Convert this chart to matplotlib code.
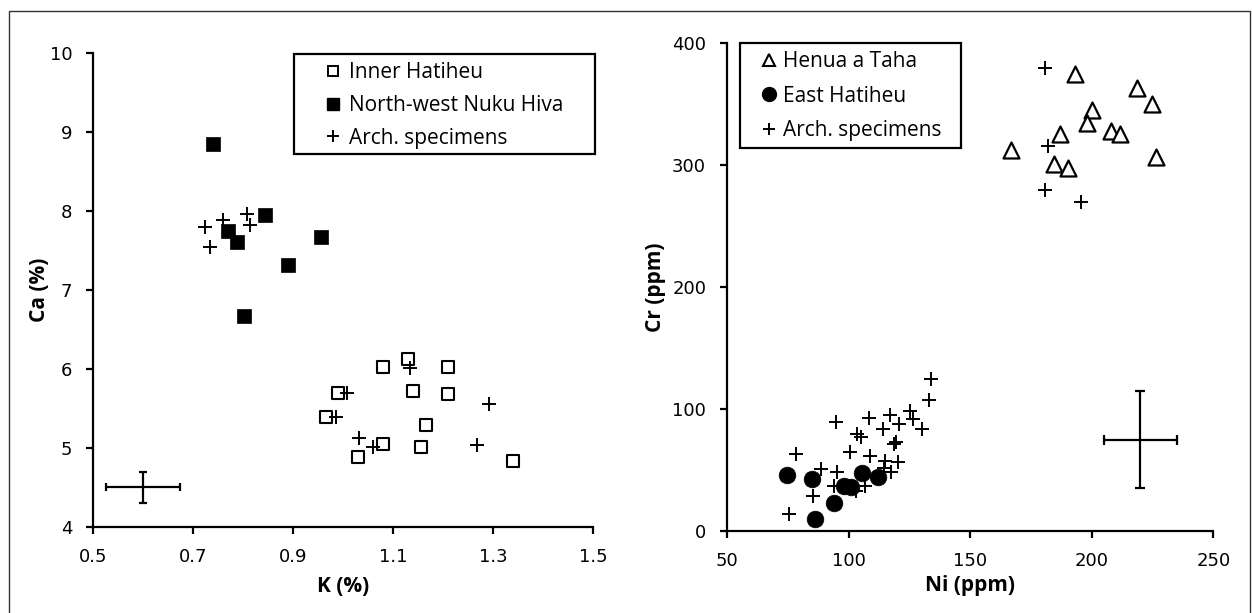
import matplotlib
matplotlib.use("Agg")
import matplotlib.pyplot as plt
from matplotlib.lines import Line2D
from matplotlib.patches import Rectangle

# ---------------- data ----------------
# Left panel: K (%) vs Ca (%)
inner_k = [1.08, 1.13, 1.21, 0.99, 1.14, 1.21, 0.965, 1.165, 1.08, 1.155, 1.03, 1.34]
inner_ca = [6.02, 6.13, 6.02, 5.69, 5.72, 5.68, 5.39, 5.29, 5.05, 5.01, 4.89, 4.83]

nw_k = [0.74, 0.844, 0.77, 0.787, 0.955, 0.889, 0.802]
nw_ca = [8.845, 7.95, 7.75, 7.61, 7.67, 7.32, 6.67]

arch_k = [0.723, 0.759, 0.807, 0.813, 0.733, 1.133, 1.009, 0.986, 1.291, 1.031, 1.059, 1.267]
arch_ca = [7.80, 7.88, 7.96, 7.82, 7.54, 6.01, 5.70, 5.39, 5.55, 5.12, 5.01, 5.04]

err_left_k, err_left_ca = 0.6, 4.5
err_left_dk, err_left_dca = 0.075, 0.2

# Right panel: Ni (ppm) vs Cr (ppm)
henua_ni = [193, 218.6, 224.9, 200.2, 197.9, 208.1, 211.6, 187, 166.7, 226.5, 184.6, 190.3]
henua_cr = [374.5, 363, 350, 345, 334.3, 328.3, 325.5, 325.3, 312.4, 307, 301.4, 298]

east_ni = [74.6, 84.9, 105.4, 112, 98.1, 100.9, 94, 86.1]
east_cr = [46, 42.7, 47.4, 44.6, 37.2, 36.4, 23, 9.9]

arch2_ni = [133.7, 133.1, 95, 108.4, 117.1, 125.3, 126.3, 120.8, 114.3, 130.4, 103.6, 105,
            119.4, 118.7, 78.3, 100.5, 108.7, 114.9, 120.4, 88.6, 95.1, 114.6, 117.6,
            94, 103, 106.8, 85.5, 75.5, 180.9, 182.1, 180.9, 195.4]
arch2_cr = [124.3, 107.3, 89.3, 92.6, 95.3, 98.8, 92, 87.9, 83.8, 83.8, 79.7, 77,
            73.4, 71.5, 63.2, 65.1, 61.9, 57.7, 56.4, 50.9, 48.2, 51.5, 48.2,
            37.2, 33.1, 37.2, 29, 14, 379.5, 316, 280, 269.9]

err_right_ni, err_right_cr = 220, 75
err_right_dni, err_right_dcr = 15, 40

left_xticks = [0.5, 0.7, 0.9, 1.1, 1.3, 1.5]
left_yticks = [4, 5, 6, 7, 8, 9, 10]
right_xticks = [50, 100, 150, 200, 250]
right_yticks = [0, 100, 200, 300, 400]

# ---------------- figure ----------------
W, H = 1252, 613
fig = plt.figure(figsize=(W / 100, H / 100), dpi=100)

def fx(px):
    return px / W

def fy(py):
    return 1 - py / H

tick_font = {"family": "DejaVu Sans", "size": 13}
label_font = dict(family="Open Sans", size=15, weight="bold")
legend_font = dict(family="Open Sans", size=15)

# outer frame
fig.patches.append(Rectangle((fx(9), fy(640)), fx(1250) - fx(9), fy(11) - fy(640),
                             transform=fig.transFigure, fill=False,
                             edgecolor="#333333", linewidth=1.0))

axL = fig.add_axes([fx(93), fy(527), fx(593) - fx(93), fy(52.7) - fy(527)])
axR = fig.add_axes([fx(727), fy(531), fx(1213.3) - fx(727), fy(43.3) - fy(531)])

for ax in (axL, axR):
    for s in ("top", "right"):
        ax.spines[s].set_visible(False)
    for s in ("left", "bottom"):
        ax.spines[s].set_linewidth(1.6)
    ax.tick_params(direction="out", length=5, width=1.6, pad=10, colors="black")

# Left panel
axL.scatter(inner_k, inner_ca, marker="s", s=8.5**2, facecolor="white",
            edgecolor="black", linewidths=1.5, zorder=3)
axL.scatter(nw_k, nw_ca, marker="s", s=9.5**2, facecolor="black",
            edgecolor="black", linewidths=0.5, zorder=3)
axL.scatter(arch_k, arch_ca, marker="+", s=10.5**2, color="black",
            linewidths=1.4, zorder=4)
axL.errorbar([err_left_k], [err_left_ca], xerr=[err_left_dk], yerr=[err_left_dca],
             fmt="none", ecolor="black", elinewidth=1.6, capsize=3, capthick=1.6)
axL.set_xlim(0.5, 1.5)
axL.set_ylim(4, 10)
axL.set_xticks(left_xticks)
axL.set_xticklabels([f"{v:g}" for v in left_xticks], fontdict=tick_font)
axL.set_yticks(left_yticks)
axL.set_yticklabels([str(v) for v in left_yticks], fontdict=tick_font)
axL.set_xlabel("K (%)", **label_font)
axL.set_ylabel("Ca (%)", **label_font)
axL.xaxis.set_label_coords(0.5, (527 - 586) / 474.3)
axL.xaxis.label.set_va("center")
axL.yaxis.set_label_coords((40 - 93) / 500.0, 0.5)
axL.yaxis.label.set_va("center")

# Right panel
axR.scatter(henua_ni, henua_cr, marker="^", s=11.5**2, facecolor="white",
            edgecolor="black", linewidths=1.6, zorder=3)
axR.scatter(east_ni, east_cr, marker="o", s=12**2, facecolor="black",
            edgecolor="black", linewidths=0.5, zorder=3)
axR.scatter(arch2_ni, arch2_cr, marker="+", s=10.5**2, color="black",
            linewidths=1.4, zorder=4)
axR.errorbar([err_right_ni], [err_right_cr], xerr=[err_right_dni], yerr=[err_right_dcr],
             fmt="none", ecolor="black", elinewidth=1.6, capsize=3.5, capthick=1.6)
axR.set_xlim(50, 250)
axR.set_ylim(0, 400)
axR.set_xticks(right_xticks)
axR.set_xticklabels([str(v) for v in right_xticks], fontdict=tick_font)
axR.set_yticks(right_yticks)
axR.set_yticklabels([str(v) for v in right_yticks], fontdict=tick_font)
axR.set_xlabel("Ni (ppm)", **label_font)
axR.set_ylabel("Cr (ppm)", **label_font)
axR.xaxis.set_label_coords(0.5, (531 - 586) / 487.7)
axR.xaxis.label.set_va("center")
axR.yaxis.set_label_coords((655 - 727) / 486.3, 0.5)
axR.yaxis.label.set_va("center")

# Legends (frame drawn separately to match the wide padding)
hL = [
    Line2D([], [], marker="s", linestyle="none", markersize=7.5, markerfacecolor="white",
           markeredgecolor="black", markeredgewidth=1.4, label="Inner Hatiheu"),
    Line2D([], [], marker="s", linestyle="none", markersize=8, markerfacecolor="black",
           markeredgecolor="black", label="North-west Nuku Hiva"),
    Line2D([], [], marker="+", linestyle="none", markersize=9, color="black",
           markeredgewidth=1.4, label="Arch. specimens"),
]
legL = fig.legend(handles=hL, loc="upper left", bbox_to_anchor=(fx(324.7), fy(62)),
                  bbox_transform=fig.transFigure, frameon=False, prop=legend_font,
                  borderpad=0, borderaxespad=0, handlelength=0.8, handletextpad=0.37,
                  labelspacing=0.57)
fig.patches.append(Rectangle((fx(294.3), fy(154)), fx(595) - fx(294.3), fy(54.3) - fy(154),
                             transform=fig.transFigure, fill=False,
                             edgecolor="black", linewidth=1.6))

hR = [
    Line2D([], [], marker="^", linestyle="none", markersize=8.5, markerfacecolor="white",
           markeredgecolor="black", markeredgewidth=1.5, label="Henua a Taha"),
    Line2D([], [], marker="o", linestyle="none", markersize=10, markerfacecolor="black",
           markeredgecolor="black", label="East Hatiheu"),
    Line2D([], [], marker="+", linestyle="none", markersize=9, color="black",
           markeredgewidth=1.4, label="Arch. specimens"),
]
legR = fig.legend(handles=hR, loc="upper left", bbox_to_anchor=(fx(760.7), fy(51)),
                  bbox_transform=fig.transFigure, frameon=False, prop=legend_font,
                  borderpad=0, borderaxespad=0, handlelength=0.8, handletextpad=0.27,
                  labelspacing=0.65)
fig.patches.append(Rectangle((fx(740), fy(147.7)), fx(960.7) - fx(740), fy(43.3) - fy(147.7),
                             transform=fig.transFigure, fill=False,
                             edgecolor="black", linewidth=1.6))

fig.savefig("out.png", dpi=100)
